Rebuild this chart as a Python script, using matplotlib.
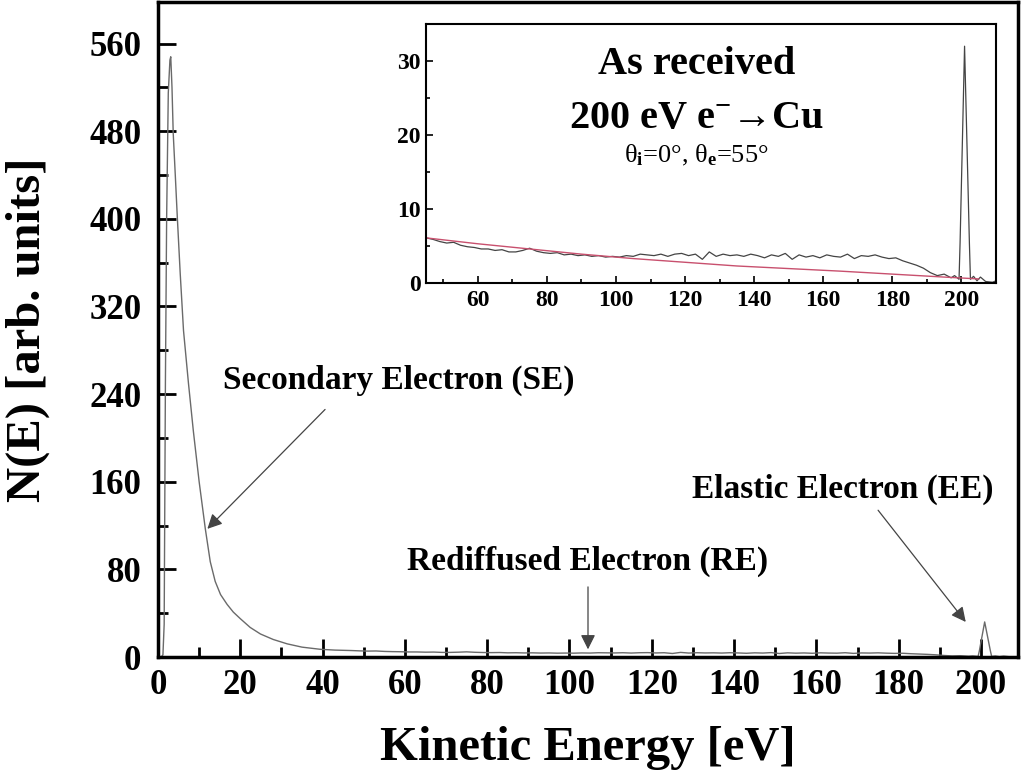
import matplotlib
matplotlib.use("Agg")
import matplotlib.pyplot as plt
from matplotlib.ticker import MultipleLocator

# ---------------- data ----------------
energy_low = [0.0, 0.8, 1.2, 1.5, 1.8, 2.1, 2.5, 2.9, 3.1, 3.4, 3.7, 4.2, 4.7, 5.4, 6.2,
              7.4, 8.6, 10.0, 11.5, 12.7, 13.9, 15.2, 16.8, 18.3, 20.0, 22.4, 24.9,
              28.0, 31.4, 35.0, 39.5, 43.0]
counts_low = [0, 0, 2, 30, 250, 401, 515, 545, 548, 520, 478, 440, 401, 350, 298,
              250, 206, 160, 117, 87, 69, 57, 48, 41, 35, 27, 21,
              16, 12, 9, 7, 6.3]

energy_high = [45, 47, 49, 51, 53, 55, 57, 59, 61, 63, 65, 67, 69, 71, 73, 75, 77, 79,
               81, 83, 85, 87, 89, 91, 93, 95, 97, 99, 101, 103, 105, 107, 109, 111,
               113, 115, 117, 119, 121, 123, 125, 127, 129, 131, 133, 135, 137, 139,
               141, 143, 145, 147, 149, 151, 153, 155, 157, 159, 161, 163, 165, 167,
               169, 171, 173, 175, 177, 179, 181, 183, 185, 187, 189, 191, 193, 195,
               197, 198, 199.3, 199.6, 200.9, 202.3, 202.6, 203.5, 204.5, 205.5,
               207, 209, 210]
counts_high = [6.1, 5.9, 5.6, 5.4, 5.5, 5.1, 4.9, 4.8, 4.6, 4.6, 4.4, 4.5, 4.2, 4.2,
               4.4, 4.7, 4.3, 4.1, 4.0, 4.1, 3.8, 3.9, 3.7, 3.8, 3.6, 3.7, 3.5, 3.6,
               3.5, 3.7, 3.6, 3.9, 3.8, 3.7, 3.9, 3.6, 3.9, 4.0, 3.7, 3.9, 3.2, 4.2,
               3.6, 3.9, 3.7, 3.8, 3.6, 3.9, 3.7, 3.4, 3.8, 3.6, 4.0, 3.2, 3.8, 3.5,
               3.7, 3.4, 3.8, 3.6, 3.5, 3.9, 3.3, 3.7, 3.6, 3.8, 3.5, 3.3, 3.4, 3.0,
               2.7, 2.4, 2.0, 1.4, 1.0, 1.2, 0.7, 1.0, 0.5, 5.4, 32.0, 5.4, 0.5, 0.9,
               0.3, 0.8, 0.2, 0.1, 0.3]

background_energy = [45, 60, 75, 90, 105, 120, 135, 150, 165, 180, 195, 205]
background_counts = [6.1, 5.3, 4.6, 3.9, 3.3, 2.8, 2.3, 1.95, 1.6, 1.2, 0.8, 0.55]

energy = energy_low + energy_high
counts = counts_low + counts_high

main_xticks = list(range(0, 201, 20))
main_yticks = list(range(0, 561, 80))
inset_xticks = list(range(60, 201, 20))
inset_yticks = [0, 10, 20, 30]

# ---------------- styling ----------------
plt.rcParams['font.family'] = ['Liberation Serif', 'DejaVu Serif']
plt.rcParams['font.weight'] = 'bold'
plt.rcParams['mathtext.fontset'] = 'custom'
plt.rcParams['mathtext.rm'] = 'Liberation Serif:bold'
plt.rcParams['mathtext.it'] = 'Liberation Serif:italic:bold'
plt.rcParams['mathtext.bf'] = 'Liberation Serif:bold'

W, H = 1025, 779
fig = plt.figure(figsize=(W / 100, H / 100), dpi=100)

def px_axes(l, t, r, b):
    return [l / W, 1 - b / H, (r - l) / W, (b - t) / H]

ax = fig.add_axes(px_axes(158, 2, 1018, 657))
ax.plot(energy, counts, color='#6a6a6a', lw=1.0)
ax.set_xlim(0, 209)
ax.set_ylim(0, 598)
ax.set_xticks(main_xticks)
ax.set_yticks(main_yticks)
ax.xaxis.set_minor_locator(MultipleLocator(10))
ax.yaxis.set_minor_locator(MultipleLocator(40))
ax.tick_params(which='both', direction='in', width=2, labelsize=25, top=False, right=False)
ax.tick_params(which='major', length=13)
ax.tick_params(which='minor', length=7)
ax.tick_params(axis='x', pad=9)
ax.tick_params(axis='y', pad=12)
for lab in ax.get_xticklabels() + ax.get_yticklabels():
    lab.set_fontweight('bold')
for s in ax.spines.values():
    s.set_linewidth(2.5)

ax.set_xlabel('Kinetic Energy [eV]', fontsize=35, fontweight='bold')
ax.set_ylabel('N(E) [arb. units]', fontsize=35, fontweight='bold')
ax.xaxis.set_label_coords(0.5, -0.105)
ax.yaxis.set_label_coords(-0.125, 0.5)

arrow = dict(arrowstyle='-|>', color='#444444', lw=0.9, mutation_scale=22,
             shrinkA=0, shrinkB=0)
ann_font = dict(fontsize=24, fontweight='bold', ha='center', va='center')

ax.text(58.6, 253, 'Secondary Electron (SE)', **ann_font)
ax.annotate('', xy=(12.0, 117), xytext=(40.6, 226), arrowprops=arrow)

ax.text(104.5, 87, 'Rediffused Electron (RE)', **ann_font)
ax.annotate('', xy=(104.5, 7), xytext=(104.5, 64), arrowprops=arrow)

ax.text(166.5, 153, 'Elastic Electron (EE)', **ann_font)
ax.annotate('', xy=(196.3, 32), xytext=(175, 134), arrowprops=arrow)

# ---------------- inset ----------------
ins = fig.add_axes(px_axes(426, 24, 996, 283))
ins.plot(energy, counts, color='#444444', lw=0.9)
ins.plot(background_energy, background_counts, color='#c8506e', lw=1.0)
ins.set_xlim(45, 210)
ins.set_ylim(0, 35)
ins.set_xticks(inset_xticks)
ins.set_yticks(inset_yticks)
ins.xaxis.set_minor_locator(MultipleLocator(10))
ins.yaxis.set_minor_locator(MultipleLocator(5))
ins.tick_params(which='both', direction='in', width=1.2, labelsize=17, top=False, right=False)
ins.tick_params(which='major', length=5)
ins.tick_params(which='minor', length=3)
ins.tick_params(axis='x', pad=5)
ins.tick_params(axis='y', pad=4)
for lab in ins.get_xticklabels() + ins.get_yticklabels():
    lab.set_fontweight('bold')
for s in ins.spines.values():
    s.set_linewidth(1.5)

ins.text(0.475, 0.842, 'As received', transform=ins.transAxes, fontsize=29,
         fontweight='bold', ha='center', va='center')
ins.text(0.475, 0.637, r'200 eV e$^{-}$→Cu', transform=ins.transAxes,
         fontsize=29, fontweight='bold', ha='center', va='center')
ins.text(0.475, 0.494, r'θ$_{\mathbf{i}}$=0°, θ$_{\mathbf{e}}$=55°', transform=ins.transAxes,
         fontsize=19, fontweight='normal', ha='center', va='center')

fig.savefig('out.png', dpi=100)
